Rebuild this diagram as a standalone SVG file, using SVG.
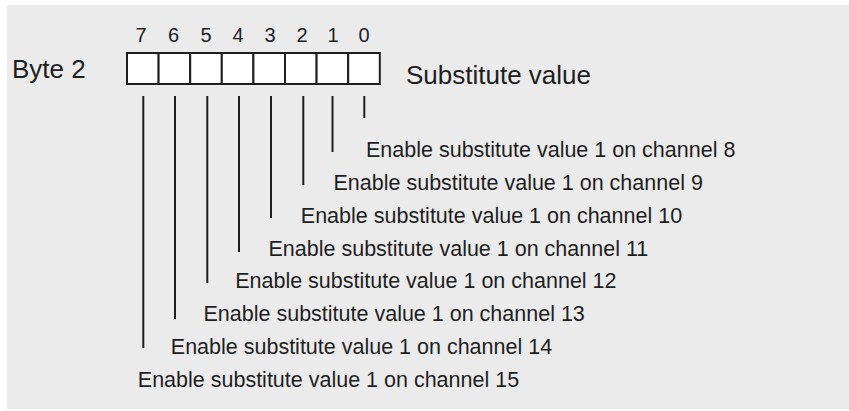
<svg xmlns="http://www.w3.org/2000/svg" width="849" height="411" viewBox="0 0 849 411">
<style>
text{font-family:"Liberation Sans",Arial,sans-serif;fill:#1e1e1e}
.big{font-size:26px}
.dig{font-size:20px;text-anchor:middle}
.lbl{font-size:21.5px}
.cell{fill:#ffffff;stroke:#1e1e1e;stroke-width:2}
.con{stroke:#1e1e1e;stroke-width:2;fill:none}
</style>
<rect x="0" y="0" width="849" height="411" fill="#ffffff"/>
<rect x="7" y="5" width="842" height="404" fill="#ebebeb"/>
<g id="byte-label"><text class="big" x="12" y="78">Byte 2</text></g>
<g id="register">
<rect class="cell" x="127" y="53" width="31.6" height="31"/>
<rect class="cell" x="158.6" y="53" width="31.6" height="31"/>
<rect class="cell" x="190.2" y="53" width="31.6" height="31"/>
<rect class="cell" x="221.8" y="53" width="31.6" height="31"/>
<rect class="cell" x="253.4" y="53" width="31.6" height="31"/>
<rect class="cell" x="285" y="53" width="31.6" height="31"/>
<rect class="cell" x="316.6" y="53" width="31.6" height="31"/>
<rect class="cell" x="348.2" y="53" width="31.6" height="31"/>
<text class="dig" x="141" y="42">7</text>
<text class="dig" x="173.5" y="42">6</text>
<text class="dig" x="206" y="42">5</text>
<text class="dig" x="238" y="42">4</text>
<text class="dig" x="270" y="42">3</text>
<text class="dig" x="302" y="42">2</text>
<text class="dig" x="333" y="42">1</text>
<text class="dig" x="364" y="42">0</text>
</g>
<g id="title"><text class="big" x="406" y="84">Substitute value</text></g>
<g id="connectors">
<line class="con" x1="364.3" y1="96" x2="364.3" y2="118"/>
<line class="con" x1="332.5" y1="96" x2="332.5" y2="152"/>
<line class="con" x1="303.3" y1="96" x2="303.3" y2="185"/>
<line class="con" x1="271" y1="96" x2="271" y2="218"/>
<line class="con" x1="239" y1="96" x2="239" y2="252"/>
<line class="con" x1="207.3" y1="96" x2="207.3" y2="283"/>
<line class="con" x1="175" y1="96" x2="175" y2="319"/>
<line class="con" x1="143.3" y1="96" x2="143.3" y2="348"/>
</g>
<g id="bit0"><text class="lbl" x="366" y="157">Enable substitute value 1 on channel 8</text></g>
<g id="bit1"><text class="lbl" x="333.5" y="190">Enable substitute value 1 on channel 9</text></g>
<g id="bit2"><text class="lbl" x="300.8" y="223">Enable substitute value 1 on channel 10</text></g>
<g id="bit3"><text class="lbl" x="268.5" y="256">Enable substitute value 1 on channel 11</text></g>
<g id="bit4"><text class="lbl" x="235.2" y="288">Enable substitute value 1 on channel 12</text></g>
<g id="bit5"><text class="lbl" x="203.5" y="321">Enable substitute value 1 on channel 13</text></g>
<g id="bit6"><text class="lbl" x="170.8" y="354">Enable substitute value 1 on channel 14</text></g>
<g id="bit7"><text class="lbl" x="137.8" y="387">Enable substitute value 1 on channel 15</text></g>
</svg>
